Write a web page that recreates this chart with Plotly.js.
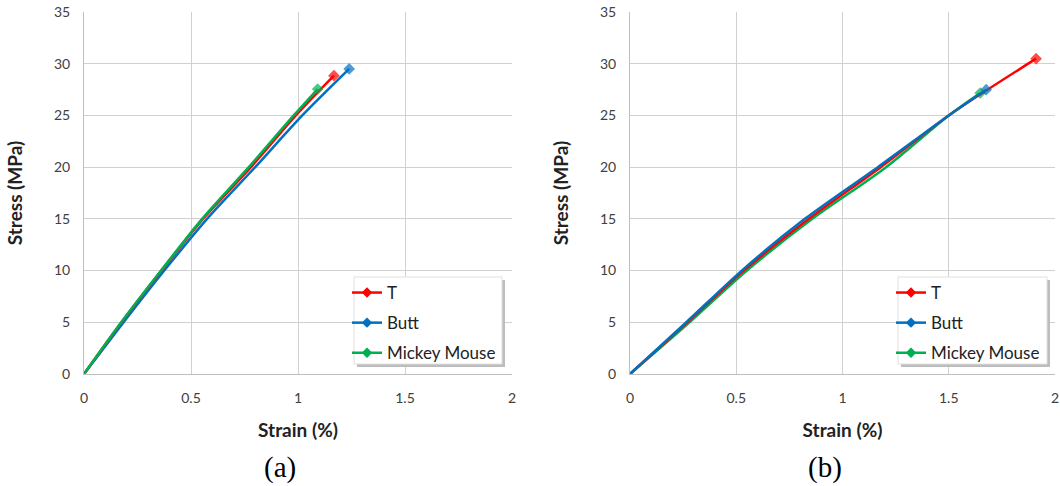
<!DOCTYPE html>
<html>
<head>
<meta charset="utf-8">
<script src="https://cdn.plot.ly/plotly-3.0.1.min.js"></script>
<style>html,body{margin:0;padding:0;background:#fff;}#chart{width:1060px;height:486px;}</style>
</head>
<body>
<div id="chart"></div>
<script>
// Panel (a)
var seriesNames = ['T', 'Butt', 'Mickey Mouse'];
var aT_strain = [0, 0.175, 0.362, 0.556, 0.78, 0.99, 1.168];
var aT_stress = [0, 5, 10, 15, 20, 25, 28.84];
var aButt_strain = [0, 0.185, 0.375, 0.575, 0.80, 1.02, 1.239];
var aButt_stress = [0, 5, 10, 15, 20, 25, 29.5];
var aMM_strain = [0, 0.174, 0.36, 0.552, 0.77, 0.98, 1.092];
var aMM_stress = [0, 5, 10, 15, 20, 25, 27.55];
// Panel (b)
var bT_strain = [0, 0.27, 0.535, 0.842, 1.18, 1.5, 1.911];
var bT_stress = [0, 5, 10, 15, 20, 25, 30.49];
var bButt_strain = [0, 0.265, 0.526, 0.823, 1.166, 1.5, 1.676];
var bButt_stress = [0, 5, 10, 15, 20, 25, 27.49];
var bMM_strain = [0, 0.28, 0.55, 0.858, 1.205, 1.5, 1.648];
var bMM_stress = [0, 5, 10, 15, 20, 25, 27.17];
var panelLabels = ['(a)', '(b)'];
var xTitle = 'Strain (%)';
var yTitle = 'Stress (MPa)';

var colors = {'T': '#ff0000', 'Butt': '#0070c0', 'Mickey Mouse': '#00b050'};

function mk(name, xs, ys, xa, ya) {
  var sizes = xs.map(function(v, i){ return i === xs.length - 1 ? 9 : 0; });
  return {
    type: 'scatter', mode: 'lines+markers', name: name, showlegend: false,
    x: xs, y: ys, xaxis: xa, yaxis: ya,
    line: {color: colors[name], width: 2.5, shape: 'spline', smoothing: 0.8},
    marker: {symbol: 'diamond', size: sizes, color: colors[name], line: {width: 0}}
  };
}
// legend-only entries (no data drawn)
function legendEntry(name, xa, ya, leg, rank) {
  return {
    type: 'scatter', mode: 'lines+markers', name: name, x: [null], y: [null],
    xaxis: xa, yaxis: ya, legend: leg, legendgroup: leg + name, legendrank: rank,
    line: {color: colors[name], width: 2.5},
    marker: {symbol: 'diamond', size: 8, color: colors[name], line: {width: 0}}
  };
}

var data = [
  mk(seriesNames[1], aButt_strain, aButt_stress, 'x', 'y'),
  mk(seriesNames[0], aT_strain, aT_stress, 'x', 'y'),
  mk(seriesNames[2], aMM_strain, aMM_stress, 'x', 'y'),
  mk(seriesNames[2], bMM_strain, bMM_stress, 'x2', 'y2'),
  mk(seriesNames[0], bT_strain, bT_stress, 'x2', 'y2'),
  mk(seriesNames[1], bButt_strain, bButt_stress, 'x2', 'y2')
];
seriesNames.forEach(function(n, i){
  data.push(legendEntry(n, 'x', 'y', 'legend', i + 1));
  data.push(legendEntry(n, 'x2', 'y2', 'legend2', i + 1));
});

var W = 1055, H = 362, T0 = 12, B0 = 374;
function px(p){ return p / W; }
function py(p){ return (B0 - p) / H; }

var tickFont = {family: 'Lato, "Open Sans", sans-serif', size: 14, color: '#404040'};
var titleFont = {family: 'Lato, "Open Sans", sans-serif', size: 19, color: '#222', weight: 'bold'};

function xax(domain, anchor) {
  return {
    domain: domain, anchor: anchor, range: [0, 2], dtick: 0.5, tick0: 0,
    showgrid: true, gridcolor: '#d0d0d0', gridwidth: 1, zeroline: false,
    showline: true, linecolor: '#bfbfbf', linewidth: 1,
    ticks: '', ticklabelstandoff: 11, tickfont: tickFont, fixedrange: true,
    title: {text: xTitle, font: titleFont, standoff: 18}
  };
}
function yax(anchor) {
  return {
    domain: [0, 1], anchor: anchor, range: [0, 35], dtick: 5, tick0: 0,
    showgrid: true, gridcolor: '#d0d0d0', gridwidth: 1, zeroline: false,
    showline: true, linecolor: '#bfbfbf', linewidth: 1,
    ticks: '', ticklabelstandoff: 10, tickfont: tickFont, fixedrange: true,
    title: {text: yTitle, font: titleFont, standoff: 26}
  };
}

function legendCfg(xp) {
  return {
    x: px(xp), y: py(275), xanchor: 'left', yanchor: 'top',
    bgcolor: 'rgba(0,0,0,0)', borderwidth: 0, tracegroupgap: 5,
    font: {family: 'Lato, "Open Sans", sans-serif', size: 17, color: '#222'},
    itemwidth: 30
  };
}

function box(x0, x1) {
  return [
    {type: 'rect', xref: 'paper', yref: 'paper', layer: 'above',
     x0: px(x0 + 3), x1: px(x1 + 3), y0: py(367), y1: py(280),
     fillcolor: '#bdbdbd', line: {width: 0}},
    {type: 'rect', xref: 'paper', yref: 'paper', layer: 'above',
     x0: px(x0), x1: px(x1), y0: py(364), y1: py(277),
     fillcolor: '#ffffff', line: {color: '#e0e0e0', width: 1}}
  ];
}

var layout = {
  width: 1060, height: 486,
  margin: {l: 0, r: 1060 - W, t: T0, b: 486 - B0},
  paper_bgcolor: '#ffffff', plot_bgcolor: '#ffffff',
  showlegend: true,
  xaxis: xax([px(84), px(512)], 'y'),
  yaxis: yax('x'),
  xaxis2: xax([px(630), 1], 'y2'),
  yaxis2: yax('x2'),
  legend: legendCfg(347),
  legend2: legendCfg(891),
  shapes: box(354, 502).concat(box(898, 1047)),
  annotations: [
    {text: panelLabels[0], xref: 'paper', yref: 'paper', x: px(280), y: py(468),
     xanchor: 'center', yanchor: 'middle', showarrow: false,
     font: {family: '"Liberation Serif", "Times New Roman", serif', size: 29, color: '#000'}},
    {text: panelLabels[1], xref: 'paper', yref: 'paper', x: px(825), y: py(468),
     xanchor: 'center', yanchor: 'middle', showarrow: false,
     font: {family: '"Liberation Serif", "Times New Roman", serif', size: 29, color: '#000'}}
  ]
};

Plotly.newPlot('chart', data, layout, {staticPlot: true, displayModeBar: false});
</script>
</body>
</html>
